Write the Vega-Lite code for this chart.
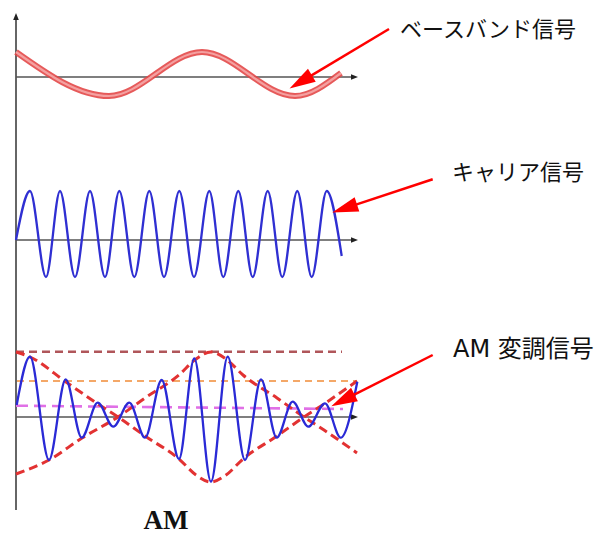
{
 "$schema": "https://vega.github.io/schema/vega-lite/v6.json",
 "width": 607, "height": 539, "padding": 0,
 "autosize": {"type": "fit", "contains": "padding"},
 "background": "white",
 "config": {"view": {"stroke": null}},
 "encoding": {
  "x": {"field": "x", "type": "quantitative", "scale": {"domain": [0, 607], "nice": false, "zero": false}, "axis": null},
  "y": {"field": "y", "type": "quantitative", "scale": {"domain": [0, 539], "nice": false, "zero": false, "reverse": true}, "axis": null}
 },
 "layer": [
  {
   "data": {"values": [{"x": 16, "y": 16, "x2": 16, "y2": 510}]},
   "mark": {"type": "rule", "color": "#666666", "strokeWidth": 2},
   "encoding": {"x2": {"field": "x2"}, "y2": {"field": "y2"}}
  },
  {
   "data": {"values": [
    {"x": 16, "y": 77, "x2": 354, "y2": 77},
    {"x": 16, "y": 240, "x2": 354, "y2": 240},
    {"x": 16, "y": 417, "x2": 354, "y2": 417}
   ]},
   "mark": {"type": "rule", "color": "#555555", "strokeWidth": 1.6},
   "encoding": {"x2": {"field": "x2"}, "y2": {"field": "y2"}}
  },
  {
   "data": {"values": [{"x": 354.5, "y": 77}, {"x": 354.5, "y": 240}, {"x": 354.5, "y": 417}]},
   "mark": {"type": "point", "shape": "M1,0 L-1,-0.8 L-1,0.8 Z", "size": 49, "filled": true, "color": "#222222", "opacity": 1, "strokeWidth": 0}
  },
  {
   "data": {"values": [{"x": 16, "y": 16.5}]},
   "mark": {"type": "point", "shape": "M0,-1 L0.8,1 L-0.8,1 Z", "size": 49, "filled": true, "color": "#222222", "opacity": 1, "strokeWidth": 0}
  },
  {
   "data": {"values": [{"x": 16, "y": 351.7, "x2": 342, "y2": 351.7}]},
   "mark": {"type": "rule", "color": "#b0565a", "strokeWidth": 2.5, "strokeDash": [8, 5]},
   "encoding": {"x2": {"field": "x2"}, "y2": {"field": "y2"}}
  },
  {
   "data": {"values": [{"x": 17, "y": 381, "x2": 357, "y2": 381}]},
   "mark": {"type": "rule", "color": "#f4a868", "strokeWidth": 2, "strokeDash": [7, 5]},
   "encoding": {"x2": {"field": "x2"}, "y2": {"field": "y2"}}
  },
  {
   "data": {"values": [{"x": 16, "y": 405.7, "x2": 343, "y2": 409}]},
   "mark": {"type": "rule", "color": "#e070e6", "strokeWidth": 2.6, "strokeDash": [12, 6]},
   "encoding": {"x2": {"field": "x2"}, "y2": {"field": "y2"}}
  },
  {
   "data": {"values": [
    {"s": "A", "x": 16, "y": 352}, {"s": "A", "x": 30, "y": 357}, {"s": "A", "x": 66, "y": 382}, {"s": "A", "x": 98, "y": 404},
    {"s": "A", "x": 118, "y": 417}, {"s": "A", "x": 145, "y": 436}, {"s": "A", "x": 179, "y": 459}, {"s": "A", "x": 196, "y": 475},
    {"s": "A", "x": 211, "y": 482}, {"s": "A", "x": 226, "y": 475}, {"s": "A", "x": 243, "y": 459}, {"s": "A", "x": 277, "y": 436},
    {"s": "A", "x": 304, "y": 417}, {"s": "A", "x": 324, "y": 404}, {"s": "A", "x": 357, "y": 381},
    {"s": "B", "x": 16, "y": 474}, {"s": "B", "x": 49, "y": 460}, {"s": "B", "x": 82, "y": 438}, {"s": "B", "x": 118, "y": 417},
    {"s": "B", "x": 145, "y": 398}, {"s": "B", "x": 179, "y": 375}, {"s": "B", "x": 196, "y": 359}, {"s": "B", "x": 211, "y": 352},
    {"s": "B", "x": 226, "y": 359}, {"s": "B", "x": 243, "y": 375}, {"s": "B", "x": 277, "y": 398}, {"s": "B", "x": 304, "y": 417},
    {"s": "B", "x": 324, "y": 430}, {"s": "B", "x": 357, "y": 453}
   ]},
   "mark": {"type": "line", "color": "#e23232", "strokeWidth": 3, "strokeDash": [9, 5], "interpolate": "monotone"},
   "encoding": {"detail": {"field": "s"}}
  },
  {
   "data": {"values": [
    {"x": 16.7, "y": 405}, {"x": 30, "y": 356.7}, {"x": 49, "y": 460}, {"x": 65.7, "y": 379.3}, {"x": 81.7, "y": 437.7},
    {"x": 97.7, "y": 402.7}, {"x": 113.3, "y": 426.7}, {"x": 129.3, "y": 402.7}, {"x": 145, "y": 437.7}, {"x": 161.7, "y": 380},
    {"x": 179, "y": 459}, {"x": 194.3, "y": 358.3}, {"x": 211, "y": 481.7}, {"x": 227.7, "y": 356.7}, {"x": 245, "y": 460},
    {"x": 261, "y": 379.3}, {"x": 276.7, "y": 437.7}, {"x": 292.7, "y": 401.7}, {"x": 308.3, "y": 426.7}, {"x": 325, "y": 403.3},
    {"x": 340.7, "y": 437.7}, {"x": 357.3, "y": 381.7}
   ]},
   "mark": {"type": "line", "color": "#2a2ad6", "strokeWidth": 2.3, "interpolate": "monotone"},
   "encoding": {}
  },
  {
   "data": {"values": [
    {"x": 16, "y": 240}, {"x": 30, "y": 191}, {"x": 46, "y": 277}, {"x": 60, "y": 191}, {"x": 75, "y": 277}, {"x": 90, "y": 191},
    {"x": 105, "y": 277}, {"x": 119.3, "y": 191}, {"x": 134.3, "y": 277}, {"x": 149.3, "y": 191}, {"x": 164, "y": 277},
    {"x": 179.3, "y": 191}, {"x": 194, "y": 277}, {"x": 209.3, "y": 191}, {"x": 223.3, "y": 277}, {"x": 238.3, "y": 191},
    {"x": 252.7, "y": 277}, {"x": 267.7, "y": 191}, {"x": 282.3, "y": 277}, {"x": 297.3, "y": 191}, {"x": 311.7, "y": 277},
    {"x": 326.7, "y": 191}, {"x": 341.7, "y": 256}
   ]},
   "mark": {"type": "line", "color": "#2f2fd2", "strokeWidth": 2.3, "interpolate": "monotone"},
   "encoding": {}
  },
  {
   "data": {"values": [
    {"x": 16, "y": 52}, {"x": 109, "y": 96}, {"x": 202, "y": 52}, {"x": 295, "y": 96}, {"x": 341, "y": 73}
   ]},
   "mark": {"type": "line", "color": "#e34848", "strokeWidth": 6, "interpolate": "monotone", "opacity": 0.9},
   "encoding": {}
  },
  {
   "data": {"values": [
    {"x": 16, "y": 52}, {"x": 109, "y": 96}, {"x": 202, "y": 52}, {"x": 295, "y": 96}, {"x": 341, "y": 73}
   ]},
   "mark": {"type": "line", "color": "#f4a0a0", "strokeWidth": 2.2, "interpolate": "monotone"},
   "encoding": {}
  },
  {
   "data": {"values": [
    {"x": 389, "y": 29, "x2": 300.7, "y2": 81.9},
    {"x": 432.7, "y": 179.3, "x2": 344.6, "y2": 208.4},
    {"x": 432.7, "y": 355, "x2": 342.9, "y2": 400.4}
   ]},
   "mark": {"type": "rule", "color": "#ff0000", "strokeWidth": 2.5},
   "encoding": {"x2": {"field": "x2"}, "y2": {"field": "y2"}}
  },
  {
   "data": {"values": [{"x": 300.7, "y": 81.9}]},
   "mark": {"type": "point", "shape": "M0,-1 L0.58,1 L-0.58,1 Z", "size": 676, "filled": true, "color": "#ff0000", "opacity": 1, "strokeWidth": 0, "angle": 239}
  },
  {
   "data": {"values": [{"x": 344.6, "y": 208.4}]},
   "mark": {"type": "point", "shape": "M0,-1 L0.58,1 L-0.58,1 Z", "size": 676, "filled": true, "color": "#ff0000", "opacity": 1, "strokeWidth": 0, "angle": 252}
  },
  {
   "data": {"values": [{"x": 342.9, "y": 400.4}]},
   "mark": {"type": "point", "shape": "M0,-1 L0.58,1 L-0.58,1 Z", "size": 676, "filled": true, "color": "#ff0000", "opacity": 1, "strokeWidth": 0, "angle": 243}
  },
  {
   "data": {"values": [
    {"x": 400, "y": 30, "t": "ベースバンド信号"},
    {"x": 452, "y": 173, "t": "キャリア信号"}
   ]},
   "mark": {"type": "text", "font": "Noto Sans CJK JP", "fontSize": 22, "align": "left", "baseline": "middle", "color": "#111111"},
   "encoding": {"text": {"field": "t"}}
  },
  {
   "data": {"values": [
    {"x": 453, "y": 350, "t": "AM 変調信号"}
   ]},
   "mark": {"type": "text", "font": "DejaVu Sans, Noto Sans CJK JP", "fontSize": 24, "align": "left", "baseline": "middle", "color": "#111111"},
   "encoding": {"text": {"field": "t"}}
  },
  {
   "data": {"values": [{"x": 166, "y": 521, "t": "AM"}]},
   "mark": {"type": "text", "font": "Liberation Serif", "fontSize": 27, "fontWeight": "bold", "align": "center", "baseline": "middle", "color": "#111111"},
   "encoding": {"text": {"field": "t"}}
  }
 ]
}
